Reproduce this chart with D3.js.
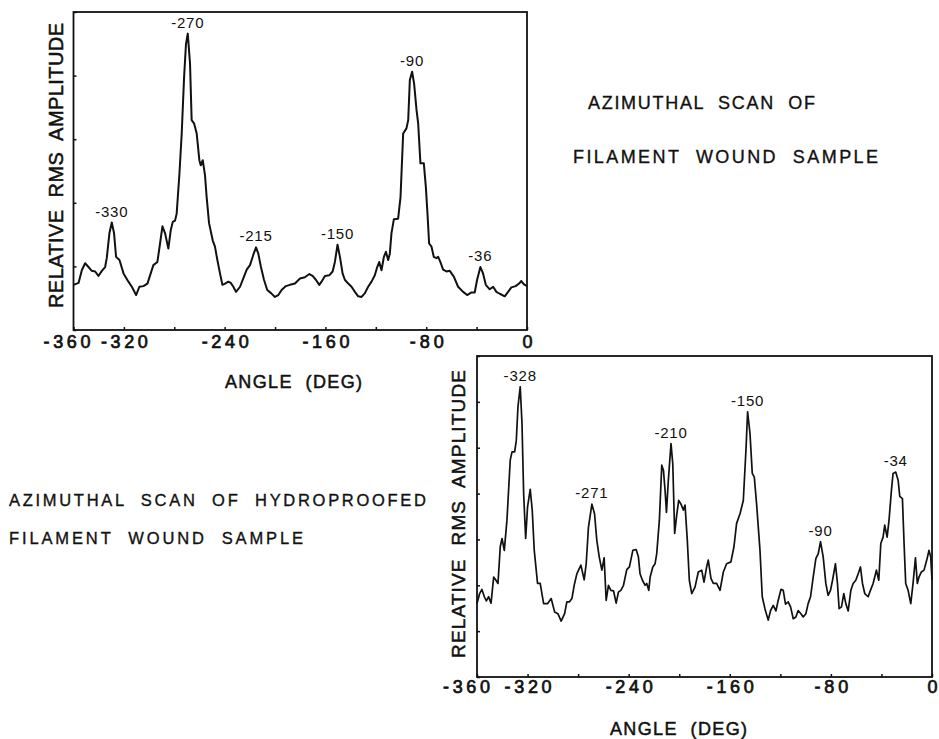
<!DOCTYPE html>
<html>
<head>
<meta charset="utf-8">
<script src="https://cdn.jsdelivr.net/npm/d3@7"></script>
<style>
  html, body { margin: 0; padding: 0; background: #fff; }
  svg { display: block; }
  text { font-family: "Liberation Sans", Arial, sans-serif; fill: #111; white-space: pre; }
</style>
</head>
<body>
<svg id="chart" width="939" height="739"></svg>
<script>
// ---------- DATA ----------
// Top chart: Azimuthal scan of filament wound sample
const topAngles = [-360,-356,-353.4,-350.8,-348.1,-345.5,-342.8,-340.2,-337.5,-334.9,-333.6,-331.5,-329.6,-327.8,-326.2,-323.5,-320.3,-316.4,-313.7,-310.3,-307.7,-304.5,-301.3,-298.7,-296.6,-293.4,-291.3,-289.4,-287.3,-284.7,-282.8,-281.2,-279.4,-278.1,-275.9,-274.1,-272.2,-270.7,-269.3,-267.5,-266.2,-264.3,-262.2,-260.1,-259,-257.4,-255.6,-254.3,-252.4,-249.5,-247.7,-245.8,-243.7,-241.8,-239.7,-237.1,-235.2,-233.1,-231,-227.8,-225.2,-222.5,-219.9,-217.3,-215.1,-213.3,-211.2,-208.8,-206.2,-203.2,-200.1,-197.4,-194.8,-191.4,-188.2,-184.2,-180.2,-176.3,-172.8,-170.2,-167.6,-164.9,-163.1,-160.4,-157,-154.3,-152.5,-150.4,-148.5,-146.4,-144.6,-141.9,-139.3,-136.6,-134,-131.3,-128.7,-126.1,-123.4,-120.8,-118.9,-117.3,-115.5,-113.6,-112,-110.2,-108.9,-107.6,-105.7,-102.3,-100.4,-98.3,-95.7,-94.3,-93,-91.2,-89.6,-87.7,-86.4,-84.6,-81.9,-80.3,-79,-77.7,-75.8,-74,-71.9,-70.5,-68.4,-66.6,-63.9,-61.3,-58.1,-54.7,-50.7,-47.5,-44.1,-41.5,-39.6,-37,-34.9,-32.7,-29.6,-26.9,-24.3,-21.6,-17.7,-15,-12.4,-9,-6.3,-4.5,-2.6,0];
const topValues = [0.71,0.74,0.94,1.05,0.99,0.93,0.92,0.85,0.93,0.99,1.13,1.52,1.69,1.52,1.15,1.10,0.89,0.76,0.68,0.55,0.68,0.69,0.73,0.89,1.02,1.07,1.36,1.63,1.52,1.28,1.57,1.70,1.72,1.83,2.46,3.09,3.98,4.50,4.66,4.19,3.30,3.25,3.09,2.67,2.59,2.67,2.43,2.09,1.68,1.41,1.31,1.10,0.89,0.71,0.73,0.76,0.74,0.68,0.60,0.68,0.81,0.95,1.02,1.18,1.30,1.20,0.99,0.79,0.63,0.58,0.52,0.55,0.63,0.69,0.71,0.73,0.81,0.83,0.88,0.85,0.79,0.71,0.76,0.85,0.86,0.92,1.07,1.34,1.15,0.89,0.79,0.73,0.68,0.60,0.53,0.52,0.58,0.68,0.76,0.86,0.99,1.07,0.94,1.15,1.23,1.10,1.20,1.52,1.74,1.75,2.09,3.09,3.17,3.30,3.93,4.06,3.87,3.46,3.25,2.62,2.62,2.25,1.83,1.36,1.31,1.15,1.13,1.15,1.05,0.95,0.92,0.93,0.84,0.68,0.60,0.55,0.59,0.59,0.79,0.99,0.89,0.71,0.64,0.68,0.60,0.57,0.53,0.60,0.67,0.69,0.73,0.77,0.72,0.69];
const topPeakLabels = ["-270", "-90", "-330", "-215", "-150", "-36"];
const topPeakAngles = [-269.3, -91.2, -329.6, -215.1, -150.4, -37];
const topPeakValues = [4.66, 4.06, 1.69, 1.30, 1.34, 0.99];

// Bottom chart: Azimuthal scan of hydroproofed filament wound sample
const botAngles = [-360,-357.9,-356.1,-354.2,-352.6,-350.8,-348.9,-346.8,-345,-343.4,-341.6,-340.2,-338.4,-336.3,-333.7,-332.3,-330.2,-328.9,-327.6,-325.8,-324.4,-323.1,-321.5,-320,-317.9,-316.3,-314.7,-312.1,-310,-307.3,-304.2,-301.3,-298.6,-296,-293.4,-290.7,-288.9,-286.8,-284.9,-283.1,-281,-277.8,-275.2,-273.6,-271.8,-269.1,-267,-265.2,-263.3,-261.2,-259.4,-257.8,-256,-254.1,-252,-249.9,-248.1,-246.2,-244.1,-241.5,-239.4,-236.7,-234.1,-232.3,-231,-229.1,-227,-225.7,-224.1,-223,-220.9,-219.1,-217.8,-215.7,-213.8,-212.5,-211.2,-210.1,-208.6,-206.5,-205.1,-203.6,-202,-200.4,-198.6,-196.7,-195.4,-193.6,-192,-190.1,-187.5,-184.9,-182.2,-180.4,-178.3,-177,-174.9,-173,-170.4,-167.7,-165.1,-162.5,-159.1,-156.7,-154.6,-151.9,-149.3,-147.2,-145.9,-144,-142.2,-140.6,-138.8,-136.1,-134.3,-132.2,-129.6,-127.7,-125.6,-123.5,-121.7,-119.5,-117.7,-115.9,-113.8,-111.9,-109.8,-107.7,-105.9,-103.7,-101.9,-99.8,-98,-96.1,-94,-91.9,-90,-88.2,-86.1,-84,-82.2,-80.3,-78.7,-76.4,-74.8,-73.5,-71.6,-69.8,-68.2,-66.3,-64.2,-62.4,-60.3,-58.4,-56.6,-55,-53.2,-50.5,-48.7,-46.6,-45.3,-44,-42.1,-40.5,-38.7,-37.4,-35.5,-34,-32.1,-30.8,-28.7,-26.8,-25.5,-23.4,-22.1,-20.8,-18.9,-16.8,-15,-13.1,-11.6,-10.3,-8.4,-6.3,-3.9,-2.4,-1,0];
const botValues = [1.60,1.82,1.91,1.75,1.66,1.75,1.61,2.18,2.11,2.04,2.84,3.02,2.76,3.42,4.73,4.91,4.91,5.16,5.89,6.33,5.53,4.00,3.02,3.71,4.09,3.64,2.76,2.04,2.04,1.60,1.60,1.71,1.42,1.38,1.22,1.38,1.64,1.64,1.71,2.00,2.25,2.44,2.12,2.47,3.27,3.77,3.56,2.98,2.62,2.33,2.60,1.67,2.00,1.89,1.88,1.61,1.85,1.89,2.00,2.34,2.40,2.76,2.78,2.62,2.25,2.11,2.00,2.04,1.89,2.18,2.40,2.47,2.69,3.42,4.62,4.51,4.07,3.59,4.29,5.09,4.65,3.13,3.53,3.85,3.77,3.64,3.75,2.98,2.11,1.82,1.96,2.29,2.33,2.07,2.40,2.55,2.15,2.04,2.04,1.89,2.29,2.47,2.51,2.84,3.35,3.56,3.85,4.95,5.78,5.31,4.44,4.36,3.78,2.76,1.75,1.49,1.24,1.45,1.56,1.44,1.67,1.91,1.89,1.59,1.64,1.53,1.27,1.31,1.45,1.38,1.31,1.38,1.60,1.75,2.18,2.58,2.69,2.95,2.62,2.04,1.78,1.89,2.11,2.47,2.04,1.49,1.53,1.82,1.60,1.44,1.89,2.04,2.11,2.25,2.40,2.04,1.82,1.75,1.89,2.04,2.18,2.33,2.11,2.91,3.05,3.31,3.05,3.42,4.07,4.44,4.47,4.29,3.94,3.89,2.91,2.04,1.89,1.60,2.04,2.60,2.04,2.18,2.29,2.33,2.58,2.76,2.62,2.11];
const botPeakLabels = ["-328", "-271", "-210", "-150", "-90", "-34"];
const botPeakAngles = [-325.8, -269.1, -206.5, -145.9, -88.2, -28.7];
const botPeakValues = [6.33, 3.77, 5.09, 5.78, 2.95, 4.47];

const xTickValues = [-360, -320, -280, -240, -200, -160, -120, -80, -40, 0];
const xTickLabels = [-360, -320, -240, -160, -80, 0];

const topTitle = ["AZIMUTHAL  SCAN  OF", "FILAMENT  WOUND  SAMPLE"];
const botTitle = ["AZIMUTHAL  SCAN  OF  HYDROPROOFED", "FILAMENT  WOUND  SAMPLE"];
const yAxisTitle = "RELATIVE  RMS  AMPLITUDE";
const xAxisTitle = "ANGLE  (DEG)";

// ---------- DRAW ----------
const svg = d3.select("#chart");
svg.append("rect").attr("width", 939).attr("height", 739).attr("fill", "#fff");

function drawPanel(cfg) {
  const x = d3.scaleLinear().domain([-360, 0]).range([cfg.left, cfg.right]);
  const y = d3.scaleLinear().domain([0, cfg.ymax]).range([cfg.bottom, cfg.top]);
  const g = svg.append("g");

  // frame
  g.append("rect")
    .attr("x", cfg.left).attr("y", cfg.top)
    .attr("width", cfg.right - cfg.left).attr("height", cfg.bottom - cfg.top)
    .attr("fill", "none").attr("stroke", "#111").attr("stroke-width", 1.8);

  // x ticks (inward)
  const xa = g.append("g").attr("transform", `translate(0,${cfg.bottom})`)
    .call(d3.axisBottom(x).tickValues(xTickValues).tickSizeInner(-3).tickSizeOuter(0).tickFormat(""));
  xa.select(".domain").remove();
  xa.selectAll("line").attr("stroke", "#111").attr("stroke-width", 1.5);

  // x tick labels
  const xl = g.append("g").attr("transform", `translate(0,${cfg.bottom})`)
    .call(d3.axisBottom(x).tickValues(xTickLabels).tickSize(0).tickFormat(d => d === 0 ? "0" : "-" + Math.abs(d)));
  xl.select(".domain").remove();
  xl.selectAll("text")
    .attr("y", cfg.tickBaseline - cfg.bottom).attr("dy", null)
    .attr("font-size", 18).attr("fill", "#111")
    .attr("stroke", "#111").attr("stroke-width", 0.7)
    .attr("font-family", "Liberation Sans, Arial, sans-serif")
    .attr("x", d => d === -360 ? cfg.firstShift : 0)
    .attr("textLength", d => d === 0 ? null : (Math.abs(d) >= 100 ? 47 : 34))
    .attr("lengthAdjust", "spacing");

  // y ticks (inward)
  const ya = g.append("g").attr("transform", `translate(${cfg.left},0)`)
    .call(d3.axisLeft(y).ticks(cfg.ymax).tickSizeInner(-3).tickSizeOuter(0).tickFormat(""));
  ya.select(".domain").remove();
  ya.selectAll("line").attr("stroke", "#111").attr("stroke-width", 1.5);

  // curve
  const line = d3.line().x(d => x(d[0])).y(d => y(d[1])).curve(d3.curveLinear);
  g.append("path")
    .datum(cfg.angles.map((a, i) => [a, cfg.values[i]]))
    .attr("d", line)
    .attr("fill", "none").attr("stroke", "#111")
    .attr("stroke-width", cfg.lineWidth).attr("stroke-linejoin", "round");

  // peak labels
  g.selectAll(".peak").data(cfg.peakLabels).enter().append("text")
    .attr("class", "peak")
    .attr("x", (d, i) => x(cfg.peakAngles[i]))
    .attr("y", (d, i) => y(cfg.peakValues[i]) - cfg.peakGap)
    .attr("text-anchor", "middle")
    .attr("font-size", 15)
    .attr("letter-spacing", 0.8)
    .text(d => d);

  // y axis title (rotated)
  g.append("text")
    .attr("transform", `translate(${cfg.yTitleX},${cfg.yTitleY}) rotate(-90)`)
    .attr("text-anchor", "middle")
    .attr("font-size", cfg.yTitleSize)
    .attr("stroke", "#111").attr("stroke-width", 0.5)
    .attr("textLength", cfg.yTitleLen).attr("lengthAdjust", "spacing")
    .text(yAxisTitle);

  // x axis title
  g.append("text")
    .attr("x", cfg.xTitleX).attr("y", cfg.xTitleY)
    .attr("font-size", 18)
    .attr("stroke", "#111").attr("stroke-width", 0.5)
    .attr("textLength", 137).attr("lengthAdjust", "spacing")
    .text(xAxisTitle);
}

drawPanel({
  left: 73.5, right: 527, top: 12, bottom: 330, ymax: 5,
  angles: topAngles, values: topValues,
  peakLabels: topPeakLabels, peakAngles: topPeakAngles, peakValues: topPeakValues,
  peakGap: 6, lineWidth: 2,
  tickBaseline: 348, firstShift: -7,
  yTitleX: 63, yTitleY: 165.5, yTitleLen: 285, yTitleSize: 20,
  xTitleX: 225, xTitleY: 388
});

drawPanel({
  left: 477, right: 932, top: 356, bottom: 677, ymax: 7,
  angles: botAngles, values: botValues,
  peakLabels: botPeakLabels, peakAngles: botPeakAngles, peakValues: botPeakValues,
  peakGap: 6, lineWidth: 1.7,
  tickBaseline: 693, firstShift: -11,
  yTitleX: 465, yTitleY: 514, yTitleLen: 288, yTitleSize: 19,
  xTitleX: 610, xTitleY: 735
});

// titles
const tt = svg.append("g").attr("stroke", "#111").attr("stroke-width", 0.35);
tt.append("text").attr("x", 588).attr("y", 109).attr("textLength", 227).attr("lengthAdjust", "spacing").attr("font-size", 18).text(topTitle[0]);
tt.append("text").attr("x", 573).attr("y", 163).attr("textLength", 305).attr("lengthAdjust", "spacing").attr("font-size", 18).text(topTitle[1]);
tt.append("text").attr("x", 9).attr("y", 506).attr("textLength", 417).attr("lengthAdjust", "spacing").attr("font-size", 16.5).text(botTitle[0]);
tt.append("text").attr("x", 9).attr("y", 544).attr("textLength", 294).attr("lengthAdjust", "spacing").attr("font-size", 16.5).text(botTitle[1]);
</script>
</body>
</html>
